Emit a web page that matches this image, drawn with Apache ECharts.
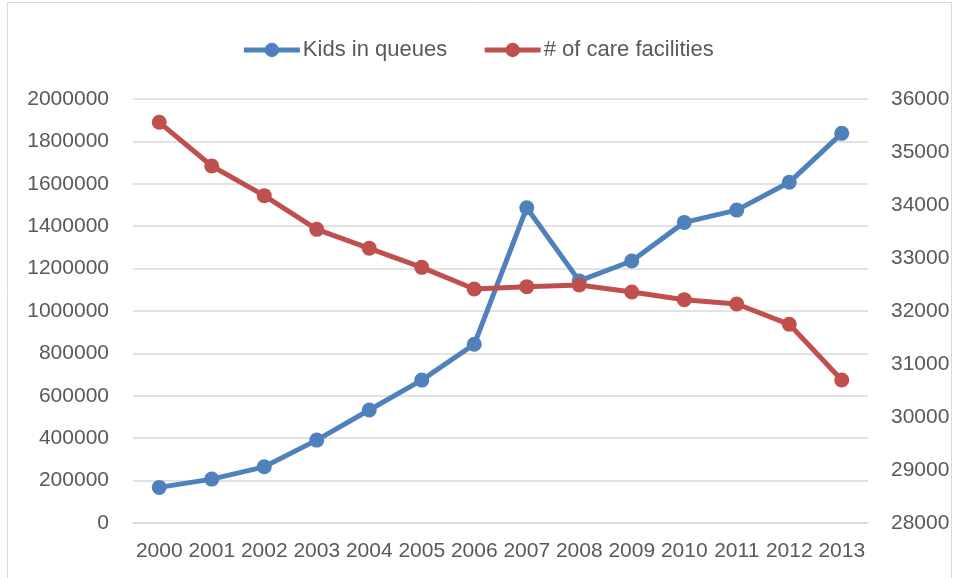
<!DOCTYPE html>
<html>
<head>
<meta charset="utf-8">
<script src="https://cdn.jsdelivr.net/npm/echarts@6/dist/echarts.min.js"></script>
<style>
  html, body { margin: 0; padding: 0; background: #fff; }
  #chart { width: 955px; height: 578px; }
</style>
</head>
<body>
<div id="chart"></div>
<script>
const years = ['2000', '2001', '2002', '2003', '2004', '2005', '2006', '2007', '2008', '2009', '2010', '2011', '2012', '2013']
const kidsInQueues = [168000, 207000, 265000, 391000, 533000, 674000, 843000, 1487000, 1142000, 1236000, 1418000, 1476000, 1607000, 1838000]
const careFacilities = [35560, 34736, 34176, 33541, 33183, 32824, 32415, 32459, 32491, 32358, 32214, 32132, 31749, 30698]

const textColor = '#595959'
const fontFamily = 'Liberation Sans, Arial, sans-serif'
const plain = (v) => String(v)

const chart = echarts.init(document.getElementById('chart'))
chart.setOption({
  animation: false,
  textStyle: { fontFamily: fontFamily },
  color: ['#4f81bd', '#c0504d'],
  graphic: [{
    type: 'rect',
    shape: { x: 7.5, y: 2.5, width: 944, height: 580 },
    style: { fill: 'none', stroke: '#d9d9d9', lineWidth: 1 },
    silent: true
  }],
  legend: {
    top: 34,
    left: 'center',
    itemWidth: 56,
    itemHeight: 18,
    itemGap: 35,
    textStyle: { color: textColor, fontSize: 22, fontFamily: fontFamily, padding: [0, 0, 0, -2] },
    data: [
      { name: 'Kids in queues', lineStyle: { width: 5 } },
      { name: '# of care facilities', lineStyle: { width: 5 } }
    ]
  },
  grid: { left: 133, right: 87, top: 99, bottom: 55 },
  xAxis: {
    type: 'category',
    data: years,
    boundaryGap: true,
    axisLine: { show: true, lineStyle: { color: '#d9d9d9', width: 1.5 } },
    axisTick: { show: false },
    axisLabel: { color: textColor, fontSize: 21, margin: 18, interval: 0 }
  },
  yAxis: [
    {
      type: 'value',
      min: 0,
      max: 2000000,
      interval: 200000,
      axisLine: { show: false },
      axisTick: { show: false },
      axisLabel: { color: textColor, fontSize: 21, margin: 24, formatter: plain },
      splitLine: { lineStyle: { color: '#d9d9d9', width: 1.5 } }
    },
    {
      type: 'value',
      min: 28000,
      max: 36000,
      interval: 1000,
      position: 'right',
      axisLine: { show: false },
      axisTick: { show: false },
      axisLabel: { color: textColor, fontSize: 21, margin: 23, formatter: plain },
      splitLine: { show: false }
    }
  ],
  series: [
    {
      name: 'Kids in queues',
      type: 'line',
      yAxisIndex: 0,
      data: kidsInQueues,
      symbol: 'circle',
      symbolSize: 15,
      lineStyle: { width: 5 },
      itemStyle: { color: '#4f81bd' }
    },
    {
      name: '# of care facilities',
      type: 'line',
      yAxisIndex: 1,
      data: careFacilities,
      symbol: 'circle',
      symbolSize: 15,
      lineStyle: { width: 5 },
      itemStyle: { color: '#c0504d' }
    }
  ]
})
</script>
</body>
</html>
